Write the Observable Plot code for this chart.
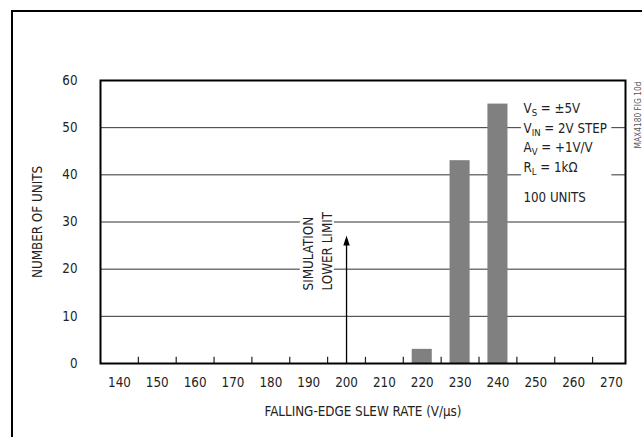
<!DOCTYPE html>
<html>
<head>
<meta charset="utf-8">
<script src="https://cdn.jsdelivr.net/npm/d3@7"></script>
<script src="https://cdn.jsdelivr.net/npm/@observablehq/plot@0.6"></script>
<style>
  html, body { margin: 0; padding: 0; background: #fff; }
  #wrap { position: relative; width: 642px; height: 437px; overflow: hidden; }
  #border { position: absolute; left: 11px; top: 10px; width: 800px; height: 600px;
            border-left: 2px solid #000; border-top: 2px solid #000; pointer-events: none; }
</style>
</head>
<body>
<div id="wrap"><div id="border"></div></div>
<script>
// ---- data ----
const rates  = [220, 230, 240];
const counts = [3, 43, 55];
const xTickLabels = [140, 150, 160, 170, 180, 190, 200, 210, 220, 230, 240, 250, 260, 270];
const xMinorTicks = [145, 155, 165, 175, 185, 195, 205, 215, 225, 235, 245, 255, 265];
const yTickLabels = [0, 10, 20, 30, 40, 50, 60];
const gridValues  = [10, 20, 30, 40, 50];
const limitRate = [200];
const limitText = "SIMULATION\nLOWER LIMIT";
const annoLines = [
  {base: "V", sub: "S",  rest: " = ±5V"},
  {base: "V", sub: "IN", rest: " = 2V STEP"},
  {base: "A", sub: "V",  rest: " = +1V/V"},
  {base: "R", sub: "L",  rest: " = 1kΩ"},
  {base: "100 UNITS", sub: "", rest: ""}
];
const figLabel = "MAX4180 FIG 10d";
const xTitle = "FALLING-EDGE SLEW RATE (V/µs)";
const yTitle = "NUMBER OF UNITS";

const bars = rates.map((r, i) => ({rate: r, count: counts[i]}));

const font = "'Liberation Sans Narrow', 'DejaVu Sans', sans-serif";
const annoDy = [23, 43, 62, 82, 112];

const arrowHead = {
  draw(context) {
    context.moveTo(0, -10);
    context.lineTo(3.2, 0);
    context.lineTo(-3.2, 0);
    context.closePath();
  }
};

const plot = Plot.plot({
  width: 642,
  height: 437,
  marginLeft: 100,
  marginRight: 17,
  marginTop: 80,
  marginBottom: 74,
  style: {fontFamily: font, fontStretch: "condensed", fontSize: "13.3px", color: "#222", background: "transparent", overflow: "visible"},
  x: {
    domain: [135, 273.7],
    ticks: xTickLabels,
    tickSize: 0,
    tickPadding: 14,
    label: xTitle,
    labelArrow: false,
    labelAnchor: "center",
    labelOffset: 52
  },
  y: {
    domain: [0, 60],
    ticks: yTickLabels,
    tickSize: 0,
    tickPadding: 23,
    label: yTitle,
    labelArrow: false,
    labelAnchor: "center",
    labelOffset: 68
  },
  marks: [
    Plot.ruleY(gridValues, {stroke: "#333", strokeWidth: 1}),
    // white backgrounds behind annotations
    Plot.rect([0], {x1: 246.2, x2: 270.1, y1: 35, y2: 58, fill: "white"}),
    Plot.rect([0], {x1: 187.8, x2: 196.8, y1: 15.3, y2: 32, fill: "white"}),
    Plot.rectY(bars, {x1: d => d.rate - 2.65, x2: d => d.rate + 2.65, y1: 0, y2: "count", fill: "#808080"}),
    Plot.ruleX(xMinorTicks, {y1: 0, y2: 1.3, stroke: "#222", strokeWidth: 1.2}),
    Plot.ruleX(limitRate, {y1: 0, y2: 25, stroke: "#000", strokeWidth: 1.3}),
    Plot.dot(limitRate, {x: d => d, y: 25, symbol: arrowHead, fill: "#000", stroke: "none"}),
    Plot.text([limitText], {x: 192, y: 15.5, text: d => d, rotate: -90, textAnchor: "start",
      lineHeight: 1.4, fill: "#222", fontSize: 13.3}),
    ...annoLines.map((d, i) => Plot.text([d], {
      frameAnchor: "top-right", dx: -102, dy: annoDy[i], textAnchor: "start",
      text: d => d.base + d.sub + d.rest, fill: "#222", fontSize: 13.2
    })),
    Plot.text([figLabel], {frameAnchor: "top-right", dx: 10, dy: 68, rotate: -90, textAnchor: "start",
      text: d => d, fill: "#555", fontSize: 8.3}),
    Plot.frame({stroke: "#000", strokeWidth: 2})
  ]
});

// subscripts
const combos = new Map(annoLines.filter(d => d.sub).map(d => [d.base + d.sub + d.rest, d]));
plot.querySelectorAll("text").forEach(t => {
  const d = combos.get(t.textContent);
  if (!d) return;
  t.textContent = "";
  const s = d3.select(t);
  s.append("tspan").text(d.base);
  s.append("tspan").attr("dy", 3).attr("font-size", 9.5).text(d.sub);
  s.append("tspan").attr("dy", -3).text(d.rest);
});
// strip any automatic axis-label arrows
plot.querySelectorAll("text").forEach(t => {
  if (t.children.length === 0 && /\s[→↑]$/.test(t.textContent)) t.textContent = t.textContent.replace(/\s[→↑]$/, "");
  if (t.children.length === 0 && /^[↑→]\s/.test(t.textContent)) t.textContent = t.textContent.replace(/^[↑→]\s/, "");
});

document.getElementById("wrap").prepend(plot);
plot.style.position = "absolute";
plot.style.left = "0";
plot.style.top = "0";
</script>
</body>
</html>
